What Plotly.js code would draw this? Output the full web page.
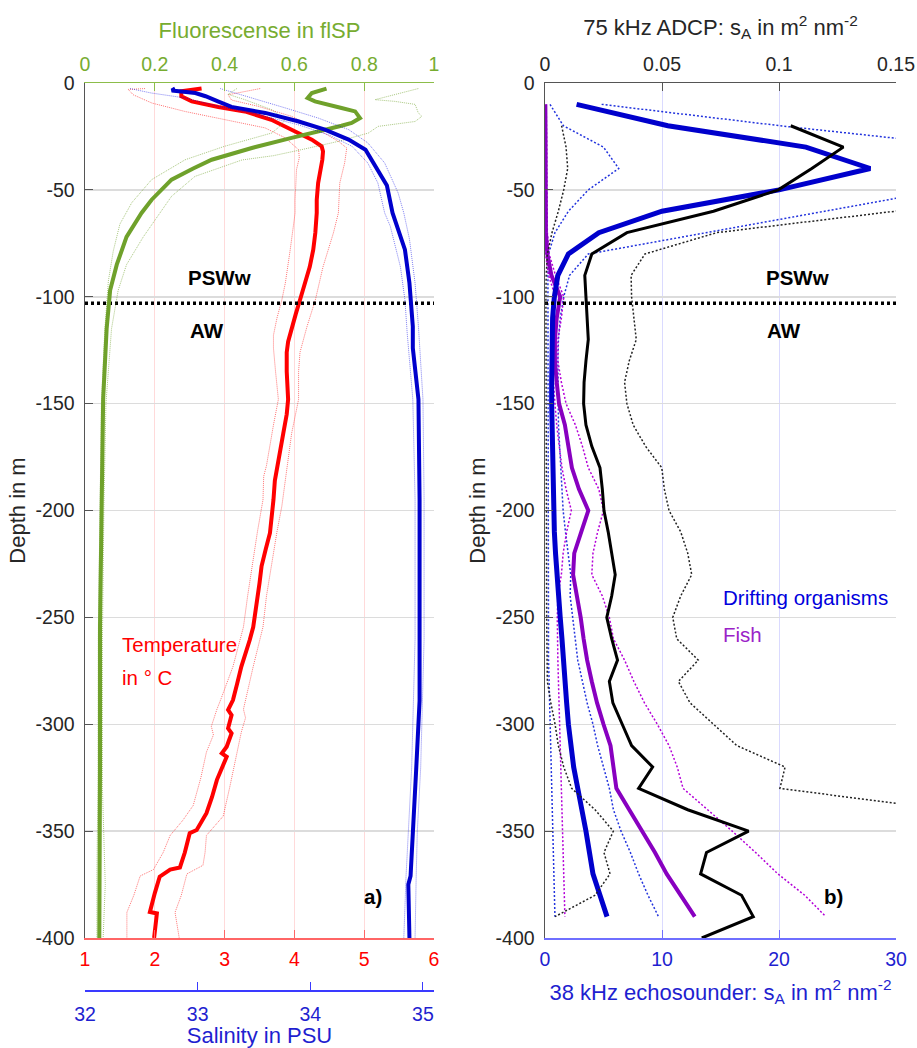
<!DOCTYPE html>
<html>
<head>
<meta charset="utf-8">
<script src="https://cdn.plot.ly/plotly-3.0.1.min.js"></script>
<style>
  html, body { margin: 0; padding: 0; background: #ffffff; }
  #chart { width: 917px; height: 1048px; }
</style>
</head>
<body>
<div id="chart"></div>
<script>
// ---------------- Panel a: CTD profiles ----------------
const tempDepth = [-2.6,-3.9,-6.2,-8.6,-11.2,-13.3,-17.2,-21.8,-26.5,-29.6,-32,-35.9,-40,-46.8,-54.7,-60.8,-70,-78,-86,-94,-101.5,-108,-114,-117,-121,-126,-135,-148,-155,-164,-172,-181,-186,-195,-203,-210.5,-218,-226,-234,-242,-254.5,-260.6,-267,-273,-281,-288.7,-293.3,-295.7,-301.9,-304.2,-310.5,-313.6,-315.2,-326,-334,-341.6,-349.5,-351,-360,-367,-368,-371.3,-379,-387.8,-388.5,-400];
const tempMean = [2.67,2.38,2.38,2.53,2.91,3.29,3.67,3.96,4.25,4.39,4.41,4.40,4.38,4.34,4.32,4.32,4.30,4.27,4.22,4.14,4.08,4.02,3.97,3.94,3.91,3.89,3.89,3.91,3.89,3.84,3.80,3.75,3.72,3.70,3.67,3.65,3.59,3.53,3.50,3.47,3.41,3.36,3.30,3.24,3.18,3.12,3.05,3.10,3.05,3.10,3.03,2.96,3.03,2.89,2.82,2.74,2.60,2.50,2.43,2.36,2.22,2.07,2.00,1.93,2.03,1.99];

const tempLowDepth = [-2.6,-3,-5.5,-9.4,-13.3,-17.2,-21,-25.7,-31.2,-35,-40.5,-54.7,-60.8,-78,-93.6,-101.5,-110,-118,-124,-135,-148,-160,-172,-179,-184,-195,-210,-226,-240,-254.5,-273,-288,-293,-301,-305,-313,-325,-338,-345,-352,-360,-368,-371,-380,-388,-400];
const tempLow = [1.86,1.62,1.69,1.96,2.43,3.00,3.58,3.87,4.06,4.07,4.03,4.01,4.01,3.94,3.87,3.82,3.75,3.70,3.70,3.73,3.77,3.70,3.64,3.60,3.56,3.55,3.47,3.39,3.33,3.27,3.12,2.95,2.89,2.81,2.84,2.74,2.66,2.55,2.40,2.22,2.12,1.98,1.79,1.70,1.60,1.60];

const tempHighDepth = [-2.6,-5.5,-8,-10.9,-15.6,-21.8,-27.3,-30.4,-37.4,-46.8,-60.8,-70,-86,-101.5,-114,-126,-135,-148,-164,-181,-198,-210,-226,-240,-254.5,-273,-293,-297,-303.6,-315,-330,-343,-352,-360,-366,-370,-380,-388,-400];
const tempHigh = [3.51,3.05,3.10,3.48,3.96,4.34,4.63,4.75,4.72,4.65,4.63,4.56,4.41,4.30,4.18,4.08,4.06,4.06,3.96,3.89,3.82,3.75,3.67,3.60,3.55,3.41,3.27,3.30,3.24,3.17,3.07,2.98,2.74,2.72,2.69,2.46,2.38,2.29,2.35];

const flDepth = [-2.6,-4.7,-7,-8.6,-11.7,-13.3,-16.4,-18.7,-20,-21.8,-25.7,-30.4,-35.9,-40,-45.2,-54.6,-60.8,-72,-85,-97,-115,-148,-195,-254,-320,-373,-400];
const flMean = [0.692,0.650,0.638,0.659,0.735,0.774,0.788,0.764,0.735,0.688,0.592,0.478,0.363,0.31,0.248,0.191,0.162,0.119,0.091,0.072,0.062,0.052,0.048,0.043,0.043,0.043,0.041];

const flLowDepth = [-2.6,-5.3,-7.8,-12.5,-17,-20,-23.4,-29.6,-35.9,-45.2,-56,-66,-78.6,-92.6,-115,-150,-200,-260,-330,-370,-400];
const flLow = [0.435,0.41,0.458,0.535,0.573,0.56,0.535,0.40,0.287,0.191,0.134,0.100,0.081,0.067,0.057,0.047,0.043,0.038,0.037,0.034,0.034];

const flHighDepth = [-2.6,-7.8,-8.6,-10,-14,-15.6,-18,-20.3,-23.4,-27.3,-31.2,-34,-36,-43.7,-53,-60.8,-72,-85,-97,-115,-150,-200,-260,-330,-360,-375,-400];
const flHigh = [0.955,0.831,0.888,0.946,0.955,0.965,0.946,0.84,0.812,0.726,0.62,0.54,0.45,0.315,0.248,0.215,0.167,0.119,0.095,0.076,0.06,0.054,0.05,0.05,0.055,0.058,0.052];

const salDepth = [-2.6,-3.5,-4.7,-6.2,-8.6,-11.2,-14,-17.9,-21.8,-26.5,-31.2,-40.5,-48,-60.8,-78,-93.6,-114,-124,-148,-195,-254,-289,-321,-351,-365,-371,-375,-400];
const salMean = [32.80,32.77,32.98,33.07,33.18,33.30,33.60,33.89,34.13,34.34,34.49,34.60,34.68,34.73,34.84,34.88,34.91,34.91,34.96,34.97,34.97,34.97,34.94,34.91,34.90,34.89,34.87,34.88];

const salLowDepth = [-2.6,-4.7,-7,-10.9,-14.8,-19.5,-24.2,-29.6,-37.4,-46.8,-60.8,-67,-86,-101.5,-117,-148,-195,-260,-320,-350,-371,-400];
const salLow = [32.40,32.59,32.89,33.18,33.54,33.89,34.16,34.37,34.51,34.60,34.66,34.71,34.80,34.84,34.86,34.91,34.93,34.93,34.90,34.87,34.85,34.83];

const salHighDepth = [-2.6,-5.5,-8.6,-11.7,-16.4,-21.8,-28,-37.4,-51.5,-60.8,-73,-93.6,-114,-148,-195,-260,-320,-350,-371,-400];
const salHigh = [33.20,33.39,33.57,33.78,34.07,34.34,34.51,34.66,34.78,34.83,34.88,34.93,34.96,35.00,35.01,35.01,34.98,34.95,34.94,34.93];

// ---------------- Panel b: acoustic backscatter ----------------
const echoDepth = [-10,-20,-30,-40,-50,-60,-70,-80,-90,-100,-110,-120,-130,-140,-150,-160,-170,-180,-190,-200,-210,-220,-230,-240,-250,-260,-270,-280,-290,-300,-310,-320,-330,-340,-350,-360,-370,-380,-390];
const driftMean = [2.7,10.5,22.3,27.8,20.0,10.0,4.6,2.0,1.1,0.8,0.65,0.6,0.58,0.57,0.57,0.6,0.62,0.65,0.7,0.75,0.8,0.9,1.0,1.15,1.3,1.45,1.55,1.7,1.85,2.0,2.2,2.45,2.8,3.2,3.5,3.8,4.1,4.7,5.3];
const driftLow = [0.43,1.57,5.0,6.3,3.7,2.0,0.85,0.3,0.25,0.25,0.25,0.25,0.25,0.25,0.25,0.25,0.25,0.25,0.25,0.25,0.25,0.25,0.25,0.25,0.25,0.28,0.3,0.35,0.4,0.45,0.5,0.55,0.6,0.65,0.7,0.72,0.76,0.8,0.85];
const driftHigh = [4.84,20.1,37,42,34,24.0,14.0,3.7,2.1,1.6,1.3,1.15,1.1,1.1,1.1,1.15,1.25,1.35,1.45,1.55,1.75,2.0,2.2,2.15,2.35,2.6,2.8,3.2,3.6,4.1,4.5,5.0,5.5,5.85,6.5,7.3,8.0,8.8,9.7];
const fishMean = [0.03,0.05,0.05,0.05,0.05,0.06,0.08,0.2,0.55,1.3,1.0,0.85,0.85,1.0,1.2,1.7,2.0,2.3,2.9,3.7,3.1,2.5,2.4,2.75,3.05,3.3,3.6,4.0,4.45,5.0,5.6,5.85,6.1,7.2,8.3,9.4,10.4,11.6,12.8];
const fishLow = [0,0,0,0,0,0,0,0.05,0.3,0.9,0.7,0.6,0.6,0.7,0.85,1.0,1.2,1.45,1.8,2.25,1.85,1.55,1.4,1.1,1.05,1.05,1.1,1.15,1.2,1.25,1.3,1.3,1.35,1.4,1.45,1.5,1.55,1.6,1.7];
const fishHigh = [0.1,0.15,0.15,0.15,0.15,0.15,0.2,0.35,0.9,1.6,1.4,1.1,1.1,1.4,1.8,2.6,3.2,3.7,4.6,5.0,4.5,4.1,4.0,4.9,5.5,5.85,6.8,7.6,8.5,9.6,10.6,11.3,11.8,13.9,16.0,18.0,19.9,22.2,24.0];

const adcpDepth = [-20,-30,-40,-50,-60,-70,-80,-90,-100,-110,-120,-130,-140,-150,-160,-170,-180,-190,-200,-210,-220,-230,-240,-250,-260,-270,-280,-290,-300,-310,-320,-330,-340,-350,-360,-370,-380,-390,-400];
const adcpMean = [0.105,0.1275,0.114,0.0997,0.072,0.035,0.020,0.017,0.0175,0.018,0.0185,0.0175,0.0167,0.0165,0.0175,0.020,0.0235,0.0245,0.0252,0.027,0.0285,0.030,0.0285,0.0264,0.0285,0.031,0.0275,0.029,0.033,0.037,0.046,0.040,0.061,0.087,0.069,0.0665,0.084,0.089,0.067];
const adcpLow = [0.0071,0.009,0.0097,0.008,0.0057,0.003,0.001,0.0005,0.0004,0.0004,0.0004,0.0005,0.0005,0.0005,0.0005,0.0006,0.0006,0.0006,0.0006,0.0006,0.0006,0.0007,0.0007,0.0007,0.0008,0.0009,0.001,0.0025,0.0043,0.0057,0.008,0.0114,0.0214,0.0292,0.0252,0.0278,0.0214,0.0043,null];
const adcpHigh = [0.25,0.28,0.26,0.21,0.1496,0.0734,0.0427,0.0368,0.037,0.038,0.039,0.036,0.034,0.035,0.0377,0.043,0.0499,0.051,0.053,0.058,0.061,0.0627,0.058,0.0546,0.0563,0.0655,0.057,0.062,0.0719,0.082,0.1026,0.1004,0.171,0.2,0.19,0.19,0.2,0.21,0.2];

// water-mass boundary (PSWw / AW)
const boundaryDepth = -103;

// ---------------- ticks ----------------
const depthTicks = [0,-50,-100,-150,-200,-250,-300,-350,-400];
const depthTickText = ['0','-50','-100','-150','-200','-250','-300','-350','-400'];
const tempTicks = [1,2,3,4,5,6];
const flTicks = [0,0.2,0.4,0.6,0.8,1];
const flTickText = ['0','0.2','0.4','0.6','0.8','1'];
const salTicks = [32,33,34,35];
const echoTicks = [0,10,20,30];
const adcpTicks = [0,0.05,0.1,0.15];
const adcpTickText = ['0','0.05','0.1','0.15'];

// ---------------- styling ----------------
const FONT = 'Liberation Sans, Arial, Helvetica, sans-serif';
const W = 917, H = 1048;
const aDom = [85 / W, 434 / W];
const bDom = [545 / W, 896 / W];
const yDom = [1 - 938 / H, 1 - 83 / H];

const RED = '#ff0000', BLUE = '#0000cc', GREEN = '#6fa12b', GREENTXT = '#77ac30';
const PURPLE = '#8800c0', ECHOBLUE = '#1f1fd0';

function ln(x, y, xa, ya, color, width, dash) {
  return { type: 'scatter', mode: 'lines', x: x, y: y, xaxis: xa, yaxis: ya,
           line: { color: color, width: width, dash: dash || 'solid' },
           hoverinfo: 'skip', showlegend: false, connectgaps: false };
}

const traces = [
  // panel a envelopes
  ln(tempLow, tempLowDepth, 'x', 'y', 'rgba(255,0,0,0.55)', 1, '1px,1px'),
  ln(tempHigh, tempHighDepth, 'x', 'y', 'rgba(255,0,0,0.55)', 1, '1px,1px'),
  ln(salLow, salLowDepth, 'x3', 'y', 'rgba(0,0,230,0.5)', 1, '1px,1px'),
  ln(salHigh, salHighDepth, 'x3', 'y', 'rgba(0,0,230,0.5)', 1, '1px,1px'),
  ln(flLow, flLowDepth, 'x2', 'y', 'rgba(111,161,43,0.6)', 1, '1px,1px'),
  ln(flHigh, flHighDepth, 'x2', 'y', 'rgba(111,161,43,0.6)', 1, '1px,1px'),
  // panel a means
  ln(tempMean, tempDepth, 'x', 'y', RED, 4),
  ln(salMean, salDepth, 'x3', 'y', BLUE, 4),
  ln(flMean, flDepth, 'x2', 'y', GREEN, 4),
  // boundary a
  ln([1, 6], [boundaryDepth, boundaryDepth], 'x', 'y', '#000000', 3.5, '3px,3px'),

  // panel b envelopes
  ln(adcpLow, adcpDepth, 'x5', 'y2', '#222222', 1.5, '2px,2px'),
  ln(adcpHigh, adcpDepth, 'x5', 'y2', '#222222', 1.5, '2px,2px'),
  ln(driftLow, echoDepth, 'x4', 'y2', '#2233dd', 1.5, '2px,2px'),
  ln(driftHigh, echoDepth, 'x4', 'y2', '#2233dd', 1.5, '2px,2px'),
  ln(fishLow, echoDepth, 'x4', 'y2', '#b400d8', 1.5, '2px,2px'),
  ln(fishHigh, echoDepth, 'x4', 'y2', '#b400d8', 1.5, '2px,2px'),
  // panel b means
  ln(fishMean, echoDepth, 'x4', 'y2', PURPLE, 4),
  ln(driftMean, echoDepth, 'x4', 'y2', BLUE, 5),
  ln(adcpMean, adcpDepth, 'x5', 'y2', '#000000', 3),
  // boundary b
  ln([0, 30], [boundaryDepth, boundaryDepth], 'x4', 'y2', '#000000', 3.5, '3px,3px')
];

const tickFont = (c) => ({ family: FONT, size: 19.5, color: c });
const titleFont = (c) => ({ family: FONT, size: 22, color: c });

function yAxis(anchor) {
  return {
    domain: yDom, range: [-400, 0], anchor: anchor,
    tickmode: 'array', tickvals: depthTicks, ticktext: depthTickText,
    ticks: 'inside', ticklen: 8, tickwidth: 1, tickcolor: '#555555',
    showline: true, linecolor: '#555555', linewidth: 1.5,
    showgrid: true, gridcolor: '#dcdcdc', gridwidth: 1.5, zeroline: false,
    tickfont: tickFont('#262626'), ticklabelstandoff: 5,
    title: { text: 'Depth in m', font: titleFont('#262626'), standoff: 4 }
  };
}

const layout = {
  width: W, height: H,
  margin: { l: 0, r: 0, t: 0, b: 0, pad: 0 },
  paper_bgcolor: '#ffffff', plot_bgcolor: '#ffffff',
  showlegend: false, hovermode: false,
  font: { family: FONT, color: '#262626' },
  xaxis: {
    domain: aDom, range: [1, 6], anchor: 'y', side: 'bottom',
    tickmode: 'array', tickvals: tempTicks,
    ticks: 'inside', ticklen: 8, tickcolor: '#ff6666', tickwidth: 1,
    showline: true, linecolor: '#ff6666', linewidth: 1.5,
    showgrid: true, gridcolor: '#ffdada', gridwidth: 1, zeroline: false,
    tickfont: tickFont(RED), ticklabelstandoff: 3
  },
  xaxis2: {
    overlaying: 'x', anchor: 'y', side: 'top', range: [0, 1],
    tickmode: 'array', tickvals: flTicks, ticktext: flTickText,
    ticks: 'inside', ticklen: 8, tickcolor: '#8cbd4a', tickwidth: 1,
    showline: true, linecolor: '#8cbd4a', linewidth: 1.5,
    showgrid: false, zeroline: false,
    tickfont: tickFont(GREENTXT), ticklabelstandoff: 3,
    title: { text: 'Fluorescense in flSP', font: titleFont(GREENTXT), standoff: 8 }
  },
  xaxis3: {
    overlaying: 'x', anchor: 'free', position: 1 - 990 / H, side: 'bottom',
    range: [32, 35.098],
    tickmode: 'array', tickvals: salTicks,
    ticks: 'inside', ticklen: 8, tickcolor: '#3a3aff', tickwidth: 1,
    showline: true, linecolor: '#3a3aff', linewidth: 1.5,
    showgrid: false, zeroline: false,
    tickfont: tickFont(ECHOBLUE), ticklabelstandoff: 6,
    title: { text: 'Salinity in PSU', font: titleFont(ECHOBLUE), standoff: 2 }
  },
  xaxis4: {
    domain: bDom, range: [0, 30], anchor: 'y2', side: 'bottom',
    tickmode: 'array', tickvals: echoTicks,
    ticks: 'inside', ticklen: 8, tickcolor: '#6f6fff', tickwidth: 1,
    showline: true, linecolor: '#6f6fff', linewidth: 1.5,
    showgrid: true, gridcolor: '#dadaff', gridwidth: 1, zeroline: false,
    tickfont: tickFont(ECHOBLUE), ticklabelstandoff: 3,
    title: { text: '38 kHz echosounder: s<sub>A</sub> in m<sup>2</sup> nm<sup>-2</sup>', font: titleFont(ECHOBLUE), standoff: 15 }
  },
  xaxis5: {
    overlaying: 'x4', anchor: 'y2', side: 'top', range: [0, 0.15],
    tickmode: 'array', tickvals: adcpTicks, ticktext: adcpTickText,
    ticks: 'inside', ticklen: 8, tickcolor: '#555555', tickwidth: 1,
    showline: true, linecolor: '#555555', linewidth: 1.5,
    showgrid: false, zeroline: false,
    tickfont: tickFont('#262626'), ticklabelstandoff: 3,
    title: { text: '75 kHz ADCP: s<sub>A</sub> in m<sup>2</sup> nm<sup>-2</sup>', font: titleFont('#262626'), standoff: 11 }
  },
  yaxis: yAxis('x'),
  yaxis2: yAxis('x4'),
  annotations: [
    { xref: 'x', yref: 'y', x: 2.93, y: -90.8, text: '<b>PSWw</b>', showarrow: false, font: { family: FONT, size: 20.5, color: '#000' } },
    { xref: 'x', yref: 'y', x: 2.75, y: -115.6, text: '<b>AW</b>', showarrow: false, font: { family: FONT, size: 20.5, color: '#000' } },
    { xref: 'x4', yref: 'y2', x: 21.6, y: -90.8, text: '<b>PSWw</b>', showarrow: false, font: { family: FONT, size: 20.5, color: '#000' } },
    { xref: 'x4', yref: 'y2', x: 20.4, y: -115.6, text: '<b>AW</b>', showarrow: false, font: { family: FONT, size: 20.5, color: '#000' } },
    { xref: 'x', yref: 'y', x: 5.13, y: -380.8, text: '<b>a)</b>', showarrow: false, font: { family: FONT, size: 20.5, color: '#000' } },
    { xref: 'x4', yref: 'y2', x: 24.7, y: -380.8, text: '<b>b)</b>', showarrow: false, font: { family: FONT, size: 20.5, color: '#000' } },
    { xref: 'x', yref: 'y', x: 1.50, y: -262.9, xanchor: 'left', text: 'Temperature', showarrow: false, font: { family: FONT, size: 20.5, color: RED } },
    { xref: 'x', yref: 'y', x: 1.50, y: -277.9, xanchor: 'left', text: 'in ° C', showarrow: false, font: { family: FONT, size: 20.5, color: RED } },
    { xref: 'x4', yref: 'y2', x: 15.04, y: -240.5, xanchor: 'left', text: 'Drifting organisms', showarrow: false, font: { family: FONT, size: 20.5, color: '#0000dd' } },
    { xref: 'x4', yref: 'y2', x: 15.04, y: -258.2, xanchor: 'left', text: 'Fish', showarrow: false, font: { family: FONT, size: 20.5, color: '#9a22c8' } }
  ]
};

Plotly.newPlot('chart', traces, layout, { displayModeBar: false, staticPlot: true });
</script>
</body>
</html>
